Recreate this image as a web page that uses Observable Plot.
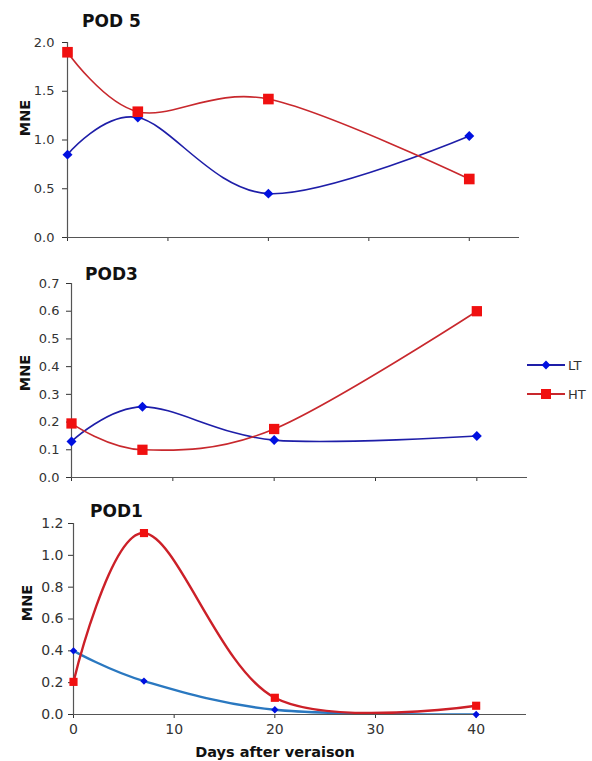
<!DOCTYPE html>
<html>
<head>
<meta charset="utf-8">
<script src="https://cdn.jsdelivr.net/npm/d3@7"></script>
<script src="https://cdn.jsdelivr.net/npm/@observablehq/plot@0.6"></script>
<style>
  body { margin: 0; background: #fff; }
  #wrap { position: relative; width: 592px; height: 761px; font-family: "DejaVu Sans", Verdana, sans-serif; color: #222; }
  .panel { position: absolute; left: 0; }
  .title { position: absolute; font-weight: bold; font-size: 17px; line-height: 20px; color: #111; }
  .ylab { position: absolute; font-weight: bold; font-size: 14.5px; color: #111; transform: translate(-50%, -50%) rotate(-90deg); white-space: nowrap; }
  .xlab { position: absolute; font-weight: bold; font-size: 14.5px; color: #111; transform: translate(-50%, -50%); white-space: nowrap; }
  #legend { position: absolute; left: 520px; top: 350px; }
</style>
</head>
<body>
<div id="wrap"></div>
<script>
// ---- data ----
const days = [0, 7, 20, 40];
const series = ["LT", "HT"];
const pod5LT = [0.85, 1.23, 0.45, 1.04];
const pod5HT = [1.90, 1.29, 1.42, 0.60];
const pod3LT = [0.13, 0.255, 0.135, 0.15];
const pod3HT = [0.195, 0.10, 0.175, 0.60];
const pod1LT = [0.40, 0.21, 0.03, 0.0];
const pod1HT = [0.205, 1.14, 0.105, 0.055];
const dayTicks = [0, 10, 20, 30, 40];
const pod5Ticks = [0, 0.5, 1.0, 1.5, 2.0];
const pod3Ticks = [0, 0.1, 0.2, 0.3, 0.4, 0.5, 0.6, 0.7];
const pod1Ticks = [0, 0.2, 0.4, 0.6, 0.8, 1.0, 1.2];
const titles = ["POD 5", "POD3", "POD1"];
const yLabel = "MNE";
const xLabel = "Days after veraison";

const rows = (lt, ht) => days.flatMap((d, i) => [
  {day: d, v: lt[i], s: "LT"},
  {day: d, v: ht[i], s: "HT"}
]);

const wrap = document.getElementById("wrap");

function panel(cfg) {
  const data = rows(cfg.lt, cfg.ht);
  const LT = data.filter(d => d.s === "LT");
  const HT = data.filter(d => d.s === "HT");
  const chart = Plot.plot({
    width: 592,
    height: cfg.height,
    marginTop: cfg.mt, marginBottom: cfg.mb, marginLeft: cfg.ml, marginRight: cfg.mr,
    style: {fontFamily: "DejaVu Sans, Verdana, sans-serif", fontSize: cfg.fs + "px", color: "#333", background: "transparent"},
    x: {domain: [0, 45], ticks: dayTicks, tickSize: 4, tickPadding: 6,
        tickFormat: cfg.xLabels ? (d => String(d)) : (() => ""), label: null},
    y: {domain: [0, cfg.ticks[cfg.ticks.length - 1]], ticks: cfg.ticks, tickSize: 5, tickPadding: cfg.tp,
        tickFormat: d => d.toFixed(1), label: null},
    marks: [
      Plot.ruleX([0], {stroke: "#555", strokeWidth: 1.2}),
      Plot.ruleY([0], {stroke: "#555", strokeWidth: 1.2}),
      Plot.line(LT, {x: "day", y: "v", curve: "cardinal", tension: 0, stroke: cfg.ltLine, strokeWidth: cfg.lw, clip: true}),
      Plot.line(HT, {x: "day", y: "v", curve: "cardinal", tension: 0, stroke: cfg.htLine, strokeWidth: cfg.lw, clip: true}),
      Plot.dot(LT, {x: "day", y: "v", symbol: "diamond2", r: cfg.rd, fill: "#0010e0", stroke: null}),
      Plot.dot(HT, {x: "day", y: "v", symbol: "square", r: cfg.rs, fill: "#f01010", stroke: null})
    ]
  });
  const holder = document.createElement("div");
  holder.className = "panel";
  holder.style.top = cfg.top + "px";
  holder.appendChild(chart);
  wrap.appendChild(holder);

  const t = document.createElement("div");
  t.className = "title";
  t.textContent = cfg.title;
  t.style.left = cfg.tx + "px";
  t.style.top = (cfg.ty - 10) + "px";
  wrap.appendChild(t);

  const yl = document.createElement("div");
  yl.className = "ylab";
  yl.textContent = yLabel;
  yl.style.left = cfg.yx + "px";
  yl.style.top = cfg.yy + "px";
  wrap.appendChild(yl);
}

panel({top: 0, height: 250, mt: 42, mb: 13, ml: 67, mr: 73, fs: 13, tp: 8,
  lt: pod5LT, ht: pod5HT, ticks: pod5Ticks, xLabels: false,
  ltLine: "#1e1ea8", htLine: "#c8282d", lw: 1.6, rd: 4.5, rs: 6.0,
  title: titles[0], tx: 82, ty: 21, yx: 25, yy: 118});

panel({top: 250, height: 240, mt: 33, mb: 13, ml: 71, mr: 65, fs: 13, tp: 7,
  lt: pod3LT, ht: pod3HT, ticks: pod3Ticks, xLabels: false,
  ltLine: "#1e1ea8", htLine: "#c8282d", lw: 1.6, rd: 4.5, rs: 5.8,
  title: titles[1], tx: 85, ty: 274, yx: 25, yy: 373});

panel({top: 490, height: 271, mt: 33, mb: 47, ml: 73, mr: 66, fs: 14, tp: 5,
  lt: pod1LT, ht: pod1HT, ticks: pod1Ticks, xLabels: true,
  ltLine: "#2a78c0", htLine: "#cc2028", lw: 2.4, rd: 3.3, rs: 4.6,
  title: titles[2], tx: 90, ty: 511, yx: 27, yy: 603});

const xl = document.createElement("div");
xl.className = "xlab";
xl.textContent = xLabel;
xl.style.left = "275px";
xl.style.top = "752px";
wrap.appendChild(xl);

// legend
const lg = d3.select(wrap).append("svg").attr("id", "legend").attr("width", 72).attr("height", 60);
series.forEach((s, i) => {
  const y = 15 + i * 29;
  const g = lg.append("g");
  g.append("line").attr("x1", 7).attr("x2", 45).attr("y1", y).attr("y2", y)
    .attr("stroke", s === "LT" ? "#1e1ea8" : "#c8282d").attr("stroke-width", 2);
  if (s === "LT") {
    g.append("path").attr("d", d3.symbol(d3.symbolDiamond2, 50)()).attr("transform", `translate(26,${y})`).attr("fill", "#0010e0");
  } else {
    g.append("rect").attr("x", 21).attr("y", y - 5).attr("width", 10).attr("height", 10).attr("fill", "#f01010");
  }
  g.append("text").attr("x", 48).attr("y", y).attr("dy", "0.36em")
    .attr("font-family", "DejaVu Sans, Verdana, sans-serif").attr("font-size", 13).attr("fill", "#333").text(s);
});
</script>
</body>
</html>
